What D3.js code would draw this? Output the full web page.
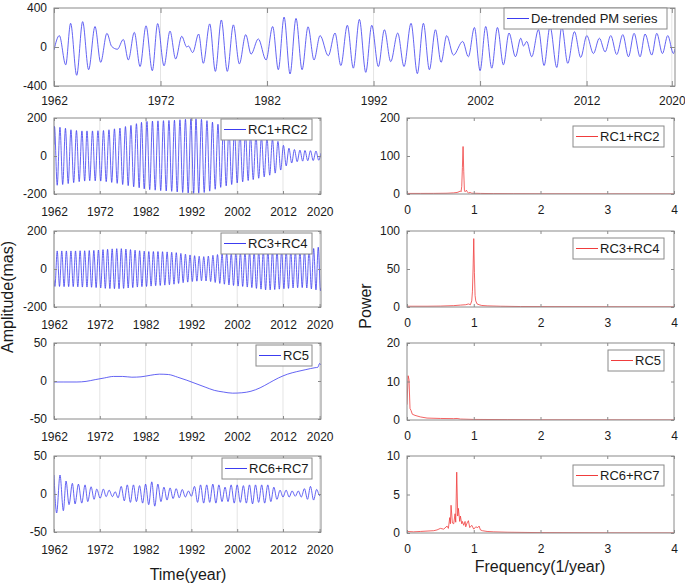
<!DOCTYPE html>
<html lang="en">
<head>
<meta charset="UTF-8">
<script src="https://cdnjs.cloudflare.com/ajax/libs/d3/7.8.5/d3.min.js"></script>
<title>PM series SSA components</title>
<style>
  body { margin: 0; background: #fff; }
  svg { display: block; font-family: "Liberation Sans", Arial, Helvetica, sans-serif; }
  .tick text { font-size: 12px; fill: #1a1a1a; }
  .tick line { stroke: #8a8a8a; }
  .title { font-size: 16px; fill: #1a1a1a; }
  .lg text { font-size: 13px; fill: #1a1a1a; }
</style>
</head>
<body>
<svg id="chart" width="685" height="587"></svg>
<script>
// ---- data ----
// de-trended PM series (extrema, mas)
const topYears = [1962.0,1962.5,1963.1,1963.56,1964.13,1964.69,1965.25,1965.85,1966.38,1966.97,
  1967.41,1967.95,1968.51,1968.98,1969.54,1970.08,1970.64,1971.23,1971.73,1972.33,
  1972.89,1973.42,1973.99,1974.46,1974.62,1975.02,1975.58,1976.02,1976.62,1977.15,
  1977.71,1978.27,1978.84,1979.4,1980.0,1980.5,1981.18,1981.91,1982.53,1983.06,
  1983.6,1984.16,1984.72,1985.29,1985.85,1986.41,1986.98,1987.75,1988.38,1988.93,
  1989.54,1990.1,1990.67,1991.27,1991.83,1992.45,1993.02,1993.61,1994.27,1994.86,
  1995.52,1996.11,1996.68,1997.24,1997.81,1998.34,1998.87,1999.5,2000.37,2000.9,
  2001.47,2002.0,2002.53,2003.1,2003.63,2004.19,2004.72,2005.32,2005.82,2006.08,
  2006.38,2006.85,2007.48,2008.01,2008.57,2009.2,2009.67,2010.23,2010.86,2011.45,
  2012.02,2012.64,2013.2,2013.74,2014.27,2014.83,2015.4,2015.93,2016.46,2017.02,
  2017.49,2018.12,2018.59,2019.12,2019.62,2020.15,2020.3];
const topVals = [-30,117,-183,243,-290,260,-233,210,-157,140,
  7,-23,77,-133,150,-200,217,-243,240,-193,
  163,-123,110,0,10,-57,133,-167,237,-250,
  277,-250,227,-173,127,-73,83,-133,210,-233,
  307,-277,293,-233,207,-133,117,-90,143,-190,
  223,-217,283,-260,223,-200,177,-150,143,-200,
  243,-273,243,-233,177,-157,117,-83,57,-100,
  200,-243,210,-217,200,-183,143,-100,90,10,
  57,-100,177,-190,210,-210,210,-167,157,-107,
  117,-67,90,-50,117,-77,127,-100,140,-100,
  133,-83,140,-67,117,-67,-20];

// RC1+RC2 (extrema)
const rc12Years = [1962.0,1962.1,1962.7,1963.3,1963.9,1964.5,1965.1,1965.7,1966.3,1966.9,1967.5,
  1968.1,1968.7,1969.2,1969.8,1970.4,1971.0,1971.6,1972.2,1972.8,1973.4,1974.0,1974.6,
  1975.2,1975.8,1976.4,1977.0,1977.6,1978.2,1978.8,1979.4,1980.0,1980.6,1981.1,1981.7,
  1982.3,1982.9,1983.5,1984.1,1984.7,1985.3,1985.9,1986.5,1987.1,1987.7,1988.3,1988.9,
  1989.5,1990.1,1990.7,1991.3,1991.9,1992.5,1993.0,1993.6,1994.2,1994.8,1995.4,1996.0,
  1996.6,1997.2,1997.8,1998.4,1999.0,1999.6,2000.2,2000.8,2001.4,2002.0,2002.6,2003.2,
  2003.8,2004.4,2004.9,2005.5,2006.1,2006.7,2007.3,2007.9,2008.5,2009.1,2009.7,2010.3,
  2010.9,2011.5,2012.1,2012.7,2013.3,2013.9,2014.5,2015.1,2015.7,2016.3,2016.8,2017.4,
  2018.0,2018.6,2019.2,2019.8,2020.3];
const rc12Vals = [60,156,-154,151,-150,146,-145,138,-140,134,-135,
  132,-132,132,-130,132,-131,133,-132,134,-135,138,-139,
  143,-144,147,-150,155,-156,161,-162,170,-167,177,-173,
  182,-177,184,-180,185,-182,186,-184,187,-186,188,-189,
  191,-192,193,-195,196,-197,196,-196,193,-192,186,-185,
  178,-175,167,-165,158,-157,149,-150,140,-142,131,-136,
  122,-129,115,-124,108,-117,102,-110,96,-101,90,-90,
  77,-74,56,-52,41,-37,34,-30,31,-27,29,-25,
  28,-24,26,-22,15];

// RC3+RC4 (extrema)
const rc34Years = [1962.0,1962.2,1962.7,1963.2,1963.7,1964.2,1964.7,1965.2,1965.7,1966.2,1966.7,
  1967.2,1967.7,1968.2,1968.7,1969.2,1969.7,1970.2,1970.7,1971.2,1971.7,1972.2,1972.7,
  1973.2,1973.7,1974.2,1974.7,1975.2,1975.7,1976.2,1976.7,1977.2,1977.7,1978.2,1978.7,
  1979.2,1979.7,1980.2,1980.7,1981.2,1981.7,1982.2,1982.7,1983.2,1983.7,1984.2,1984.7,
  1985.2,1985.7,1986.2,1986.7,1987.2,1987.7,1988.2,1988.7,1989.2,1989.7,1990.2,1990.7,
  1991.2,1991.7,1992.2,1992.7,1993.2,1993.7,1994.2,1994.7,1995.2,1995.7,1996.2,1996.7,
  1997.2,1997.7,1998.2,1998.7,1999.2,1999.7,2000.2,2000.7,2001.2,2001.7,2002.2,2002.7,
  2003.2,2003.7,2004.2,2004.7,2005.2,2005.7,2006.2,2006.7,2007.2,2007.7,2008.2,2008.7,
  2009.2,2009.7,2010.2,2010.7,2011.2,2011.7,2012.2,2012.7,2013.2,2013.7,2014.2,2014.7,
  2015.2,2015.7,2016.2,2016.7,2017.2,2017.7,2018.2,2018.7,2019.2,2019.7,2020.2,2020.3];
const rc34Vals = [-60,-92,95,-92,95,-93,95,-93,95,-93,95,
  -94,96,-95,96,-95,97,-96,98,-98,100,-100,102,
  -102,104,-103,106,-104,107,-104,107,-102,105,-100,102,
  -98,99,-95,96,-93,94,-92,92,-90,92,-88,92,
  -87,91,-85,90,-83,88,-80,86,-76,82,-72,78,
  -69,74,-66,70,-64,67,-62,65,-63,68,-66,72,
  -71,76,-76,80,-80,83,-84,85,-87,87,-90,88,
  -92,90,-95,92,-98,94,-102,96,-106,98,-110,100,
  -110,100,-108,100,-106,99,-104,98,-102,97,-100,96,
  -99,96,-98,98,-100,103,-105,108,-110,115,-115,-100];

// RC5 (trend)
const rc5Years = [1962,1964,1967,1969,1971,1973,1975,1977,1979,1981,1983,1985,1987,1989,1991,
  1993,1995,1997,1999,2001,2003,2005,2007,2009,2011,2013,2015,2017,2019,2019.6,2020,2020.3];
const rc5Vals = [-1.3,-1.3,-1.3,-0.5,1.8,4,6,6,5,5.5,7.5,9,8.5,5,1,
  -3.5,-8,-12.3,-14.5,-16,-15.5,-13.5,-9,-2.5,4,9,12.3,15,17.5,18,23,21];

// RC6+RC7 (extrema)
const rc67Years = [1962.0,1962.58,1963.31,1964.04,1964.63,1965.28,1966.01,1966.6,1967.33,1968.06,
  1968.78,1969.37,1970.1,1970.75,1971.34,1972.07,1972.79,1973.38,1974.04,1974.76,
  1975.35,1976.0,1976.68,1977.35,1978.0,1978.68,1979.35,1980.0,1980.68,1981.35,
  1982.0,1982.68,1983.35,1984.0,1984.68,1985.35,1986.0,1986.68,1987.35,1988.0,
  1988.68,1989.35,1990.0,1990.68,1991.35,1992.0,1992.68,1993.35,1994.0,1994.68,
  1995.35,1996.0,1996.68,1997.35,1998.0,1998.68,1999.35,2000.0,2000.68,2001.35,
  2002.0,2002.68,2003.35,2004.0,2004.68,2005.35,2006.0,2006.68,2007.35,2008.0,
  2008.68,2009.35,2010.0,2010.68,2011.35,2012.0,2012.68,2013.35,2014.0,2014.68,
  2015.35,2016.0,2016.68,2017.35,2018.0,2018.68,2019.35,2020.0,2020.3];
const rc67Vals = [25,-25,25,-22,17,-14,14,-13,13,-12,
  12,-10,9.5,-7,6.5,-5.6,6.5,-3.5,5,-3.5,
  3,-5,10,-9,12,-11,12,-10,11,-12,
  13,-14,16,-16,13,-10,9,-8,8,-6,
  7,-5,6,-4,4,-3,10,-11,12,-12,
  12,-11,13,-12,12,-10,9,-10,12,-12,
  12,-11,11,-12,12,-13,12,-11,12,-12,
  12,-10,9,-7,5,-4,5,-4,4,-3,
  4,-4,7,-7,10,-8,6,-2,0];

// power spectra
const s12Freq = [0,0.2,0.4,0.6,0.7,0.75,0.78,0.8,0.81,0.82,0.83,0.84,0.85,0.86,0.87,0.89,0.9,0.92,0.95,0.97,1.0,1.1,1.3,1.6,2,3,4];
const s12Pow  = [1.5,1.5,1.6,2,3,4,6,8,6,20,70,125,60,10,6,10,6,3,4,2,2,1.5,1,0.7,0.5,0.3,0.2];
const s34Freq = [0,0.3,0.5,0.7,0.8,0.88,0.92,0.95,0.97,0.98,0.99,1.0,1.01,1.02,1.03,1.05,1.08,1.12,1.2,1.4,1.7,2,3,4];
const s34Pow  = [1,1,1.2,1.8,2.5,3,4,3,8,20,50,90,45,15,8,4,3,2,1.5,1,0.6,0.5,0.3,0.2];
const s5Freq  = [0,0.017,0.03,0.045,0.06,0.08,0.12,0.2,0.3,0.5,0.7,0.75,0.8,1,1.5,2,4];
const s5Pow   = [4,11.5,10.5,3,2.5,1.5,1.2,0.8,0.5,0.4,0.35,0.4,0.25,0.15,0.1,0.05,0.02];
const s67Freq = [0,0.1,0.2,0.3,0.4,0.45,0.5,0.55,0.6,0.62,0.64,0.65,0.66,0.68,0.7,0.72,0.73,0.745,0.76,0.77,
  0.79,0.8,0.82,0.83,0.85,0.87,0.88,0.9,0.92,0.94,0.97,1.0,1.03,1.06,1.08,1.1,1.13,1.2,1.3,1.5,2,3,4];
const s67Pow  = [0.2,0.15,0.2,0.25,0.3,0.4,0.6,0.5,0.9,0.6,2,1.2,3.6,1.3,1.2,2.5,1.4,7.9,2.2,3.2,
  1.5,2.2,1.2,1.5,1.0,1.5,0.8,1.3,1.6,0.7,1.0,0.5,0.8,0.7,0.9,0.4,0.3,0.2,0.15,0.1,0.05,0.02,0.01];

const yearTicks = [1962, 1972, 1982, 1992, 2002, 2012, 2020];
const freqTicks = [0, 1, 2, 3, 4];

// ---- drawing ----
const svg = d3.select("#chart");
const BLUE = "#3c3cf0", RED = "#f03c3c", AXIS = "#8a8a8a";

const panels = [
  {x0:54, x1:675, y0:8, y1:86, xDom:[1962,2020.3], xt:yearTicks, yt:[-400,0,400], xs:topYears, ys:topVals,
   color:BLUE, grid:true, tick:5, pad:10, label:"De-trended PM series", lg:[504,8,163,21]},
  {x0:54, x1:321, y0:118, y1:194, xDom:[1962,2020.3], xt:yearTicks, yt:[-200,0,200], xs:rc12Years, ys:rc12Vals,
   color:BLUE, grid:true, tick:3, pad:13, label:"RC1+RC2", lg:[221,119,91,21]},
  {x0:54, x1:321, y0:231, y1:307, xDom:[1962,2020.3], xt:yearTicks, yt:[-200,0,200], xs:rc34Years, ys:rc34Vals,
   color:BLUE, grid:true, tick:3, pad:13, label:"RC3+RC4", lg:[221,233,91,21]},
  {x0:54, x1:321, y0:343, y1:419, xDom:[1962,2020.3], xt:yearTicks, yt:[-50,0,50], xs:rc5Years, ys:rc5Vals,
   color:BLUE, grid:true, tick:3, pad:13, label:"RC5", lg:[256,345,56,21]},
  {x0:54, x1:321, y0:456, y1:532, xDom:[1962,2020.3], xt:yearTicks, yt:[-50,0,50], xs:rc67Years, ys:rc67Vals,
   color:BLUE, grid:true, tick:3, pad:13, label:"RC6+RC7", lg:[222,458,90,21]},
  {x0:407, x1:674, y0:118, y1:194, xDom:[0,4], xt:freqTicks, yt:[0,100,200], xs:s12Freq, ys:s12Pow,
   color:RED, grid:false, tick:3, pad:11, label:"RC1+RC2", lg:[573,126,91,21], linear:true},
  {x0:407, x1:674, y0:231, y1:307, xDom:[0,4], xt:freqTicks, yt:[0,50,100], xs:s34Freq, ys:s34Pow,
   color:RED, grid:false, tick:3, pad:11, label:"RC3+RC4", lg:[573,238,91,21], linear:true},
  {x0:407, x1:674, y0:343, y1:420, xDom:[0,4], xt:freqTicks, yt:[0,10,20], xs:s5Freq, ys:s5Pow,
   color:RED, grid:false, tick:3, pad:11, label:"RC5", lg:[608,350,56,21], linear:true},
  {x0:407, x1:674, y0:456, y1:533, xDom:[0,4], xt:freqTicks, yt:[0,5,10], xs:s67Freq, ys:s67Pow,
   color:RED, grid:false, tick:3, pad:11, label:"RC6+RC7", lg:[573,465,91,21], linear:true}
];

panels.forEach((p, i) => {
  const x = d3.scaleLinear().domain(p.xDom).range([p.x0, p.x1]);
  const y = d3.scaleLinear().domain([p.yt[0], p.yt[2]]).range([p.y1, p.y0]);
  const g = svg.append("g");

  g.append("clipPath").attr("id", "clip" + i)
    .append("rect").attr("x", p.x0).attr("y", p.y0)
    .attr("width", p.x1 - p.x0).attr("height", p.y1 - p.y0);

  if (p.grid) {
    g.selectAll(".grid").data(p.xt).enter().append("line")
      .attr("x1", d => x(d)).attr("x2", d => x(d))
      .attr("y1", p.y0).attr("y2", p.y1)
      .style("stroke", "#e4e4e4").style("stroke-width", 1);
  }

  const line = d3.line()
    .x(d => x(d[0])).y(d => y(d[1]))
    .curve(p.linear ? d3.curveLinear : d3.curveMonotoneX);

  g.append("path")
    .datum(d3.zip(p.xs, p.ys))
    .attr("clip-path", "url(#clip" + i + ")")
    .attr("d", line)
    .style("fill", "none")
    .style("stroke", p.color)
    .style("stroke-width", 0.8);

  const fmt = d => String(d);
  const bottom = g.append("g").attr("transform", `translate(0,${p.y1})`)
    .call(d3.axisBottom(x).tickValues(p.xt).tickFormat(fmt).tickSizeInner(-p.tick).tickSizeOuter(0).tickPadding(p.pad));
  const top = g.append("g").attr("transform", `translate(0,${p.y0})`)
    .call(d3.axisTop(x).tickValues(p.xt).tickFormat("").tickSizeInner(-p.tick).tickSizeOuter(0));
  const left = g.append("g").attr("transform", `translate(${p.x0},0)`)
    .call(d3.axisLeft(y).tickValues(p.yt).tickFormat(fmt).tickSizeInner(-p.tick).tickSizeOuter(0).tickPadding(7));
  const right = g.append("g").attr("transform", `translate(${p.x1},0)`)
    .call(d3.axisRight(y).tickValues(p.yt).tickFormat("").tickSizeInner(-p.tick).tickSizeOuter(0));
  [bottom, top, left, right].forEach(a => {
    a.select(".domain").remove();
    a.attr("font-family", null).attr("font-size", null);
    a.selectAll(".tick line").style("stroke", AXIS);
  });

  g.append("rect")
    .attr("x", p.x0).attr("y", p.y0)
    .attr("width", p.x1 - p.x0).attr("height", p.y1 - p.y0)
    .style("fill", "none").style("stroke", AXIS).style("stroke-width", 1);

  // legend
  const [bx, by, bw, bh] = p.lg;
  const lg = g.append("g").attr("class", "lg");
  lg.append("rect").attr("x", bx).attr("y", by).attr("width", bw).attr("height", bh)
    .style("fill", "#fff").style("stroke", AXIS).style("stroke-width", 1);
  lg.append("line").attr("x1", bx + 3).attr("x2", bx + 25)
    .attr("y1", by + bh / 2).attr("y2", by + bh / 2)
    .style("stroke", p.color).style("stroke-width", 1);
  lg.append("text").attr("x", bx + 27).attr("y", by + bh / 2).attr("dy", "0.36em").text(p.label);
});

// axis titles
svg.append("text").attr("class", "title")
  .attr("transform", "translate(13,297) rotate(-90)")
  .attr("text-anchor", "middle").text("Amplitude(mas)");
svg.append("text").attr("class", "title")
  .attr("transform", "translate(371,306) rotate(-90)")
  .attr("text-anchor", "middle").text("Power");
svg.append("text").attr("class", "title")
  .attr("x", 188).attr("y", 580).attr("text-anchor", "middle").text("Time(year)");
svg.append("text").attr("class", "title")
  .attr("x", 540).attr("y", 572).attr("text-anchor", "middle").text("Frequency(1/year)");
</script>
</body>
</html>
